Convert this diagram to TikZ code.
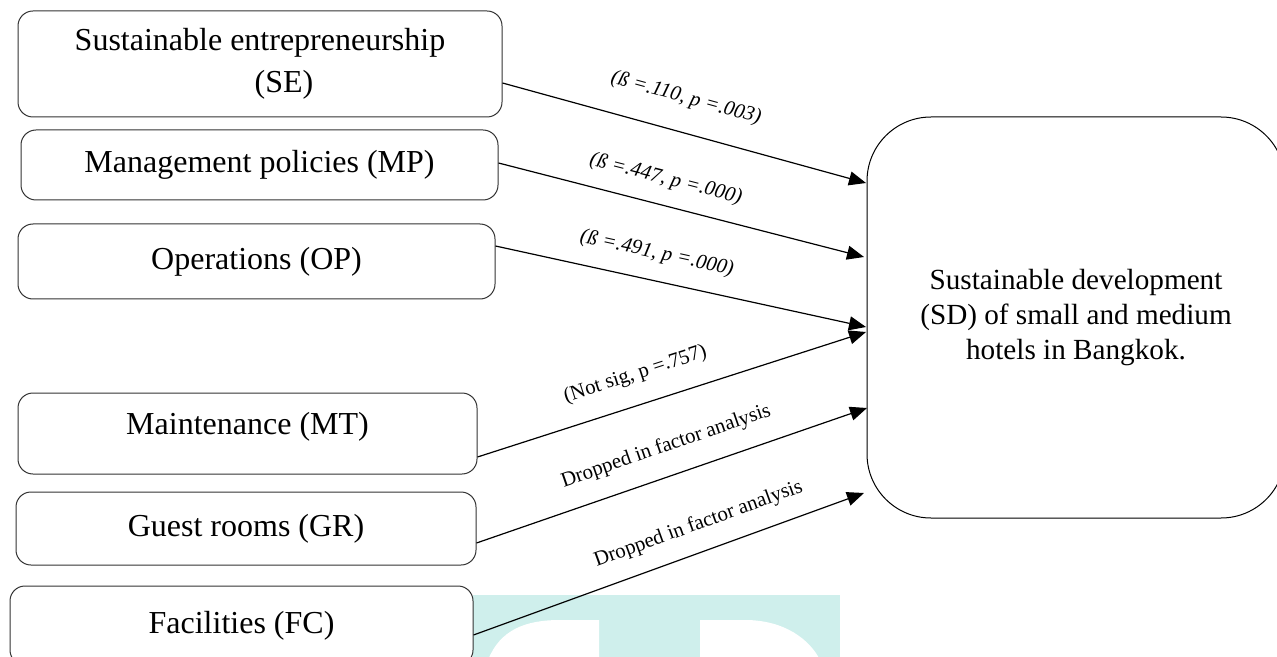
\documentclass[tikz,border=0pt]{standalone}
\usepackage{fontspec}
\setmainfont{Liberation Serif}
\usetikzlibrary{positioning}
\usetikzlibrary{arrows.meta}
\definecolor{watercyan}{RGB}{207,239,236}

\begin{document}
\begin{tikzpicture}[x=0.5pt, y=-0.5pt,
		factor/.style={
			draw=black!80,
			line width=0.5pt,
			rounded corners=7.5pt,
			align=center,
			font=\fontsize{16}{21}\selectfont
		},
		outcome/.style={draw, line width=0.5pt, rounded corners=32pt, align=center, font=\fontsize{14.6}{17.3}\selectfont},
		link/.style={line width=0.6pt, -{Triangle[length=8.5pt, width=7pt]}},
		coef/.style={sloped, inner sep=0pt, font=\fontsize{10.4}{12}\selectfont}]
		\useasboundingbox (0,0) rectangle (1277,657);
		
		% watermark behind the picture
		\fill[watercyan] (473,595) rectangle (840,660);
		\fill[white] (488,660) .. controls (500,630) and (525,620) .. (560,620) -- (599,620) -- (599,660) -- cycle;
		\fill[white] (700,620) -- (745,620) .. controls (785,620) and (810,640) .. (820,660) -- (700,660) -- cycle;
		
		\node[factor, minimum width=242pt, minimum height=53pt] (se) at (260,64) {Sustainable entrepreneurship\\\hspace*{24pt}(SE)};
		\node[factor, minimum width=238.5pt, minimum height=35pt] (mp) at (259.5,165) {Management policies (MP)};
		\node[factor, minimum width=238.5pt, minimum height=37.5pt] (op) at (256.5,261.5) {Operations (OP)};
		\node[factor, minimum width=229.5pt, minimum height=40.5pt, text depth=10pt] (mt) at (247.5,433.5) {Maintenance (MT)};
		\node[factor, minimum width=230pt, minimum height=36.5pt] (gr) at (246,528.5) {Guest rooms (GR)};
		\node[factor, minimum width=231.5pt, minimum height=39.5pt] (fc) at (241.5,625.5) {Facilities (FC)};
		
		\node[outcome, minimum width=209pt, minimum height=200.5pt] (sd) at (1076,317.5) {Sustainable development\\(SD) of small and medium\\hotels in Bangkok.};
		
		\coordinate (sdin1) at (866,183);
		\coordinate (sdin2) at (864,257);
		\coordinate (sdin3) at (866,327);
		\coordinate (sdin4) at (866,332);
		\coordinate (sdin5) at (867,408);
		\coordinate (sdin6) at (864,493);
		
		\draw[link] (se.east) ++(0,19) -- (sdin1) node[coef, pos=0.48, above=12pt] {\itshape (ß =.110, p =.003)};
		\draw[link] (mp.east) ++(0,-2) -- (sdin2) node[coef, pos=0.44, above=8pt] {\itshape (ß =.447, p =.000)};
		\draw[link] (op.east) ++(0,-15.5) -- (sdin3) node[coef, pos=0.42, above=8.5pt] {\itshape (ß =.491, p =.000)};
		\draw[link] (mt.east) ++(0,23.5) -- (sdin4) node[coef, pos=0.43, above=10pt] {(Not sig, p =.757)};
		\draw[link] (gr.east) ++(0,14.5) -- (sdin5) node[coef, pos=0.51, above=9.5pt] {Dropped in factor analysis};
		\draw[link] (fc.east) ++(0,9.5) -- (sdin6) node[coef, pos=0.6, above=8.5pt] {Dropped in factor analysis};
	\end{tikzpicture}
\end{document}
